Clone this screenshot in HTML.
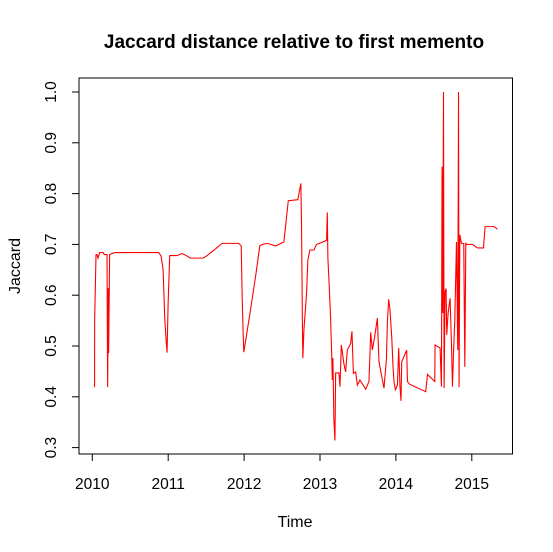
<!DOCTYPE html>
<html><head><meta charset="utf-8"><style>
html,body{margin:0;padding:0;background:#fff;}
svg{display:block;font-family:"Liberation Sans",Arial,sans-serif;}
</style></head><body>
<svg id="chart" width="553" height="552" viewBox="0 0 553 552" xmlns="http://www.w3.org/2000/svg">
<rect x="0" y="0" width="553" height="552" fill="#fff"/>
<text x="294" y="48" font-size="19" font-weight="bold" text-anchor="middle">Jaccard distance relative to first memento</text>
<rect x="79" y="78" width="433.5" height="376" fill="none" stroke="#000" stroke-width="1"/>
<g id="xaxis"></g>
<g id="yaxis"></g>
<text x="295" y="527" font-size="16" text-anchor="middle">Time</text>
<text transform="translate(20,266) rotate(-90)" font-size="16" text-anchor="middle">Jaccard</text>
<polyline id="series" fill="none" stroke="#ff0000" stroke-width="1.1" stroke-linejoin="miter"/>
</svg>
<script>
const xTicks = [2010, 2011, 2012, 2013, 2014, 2015];
const yTicks = [0.3, 0.4, 0.5, 0.6, 0.7, 0.8, 0.9, 1.0];
const yTickLabels = ["0.3", "0.4", "0.5", "0.6", "0.7", "0.8", "0.9", "1.0"];
const times = [2010.030,2010.031,2010.049,2010.062,2010.075,2010.096,2010.141,2010.158,2010.194,2010.202,2010.211,2010.215,2010.228,2010.260,2010.303,2010.875,2010.906,2010.933,2010.954,2010.972,2010.985,2010.999,2011.020,2011.117,2011.183,2011.226,2011.293,2011.460,2011.513,2011.623,2011.711,2011.930,2011.962,2011.975,2011.988,2011.996,2012.018,2012.084,2012.150,2012.207,2012.239,2012.305,2012.414,2012.458,2012.524,2012.546,2012.582,2012.708,2012.731,2012.748,2012.757,2012.767,2012.774,2012.788,2012.823,2012.840,2012.867,2012.920,2012.955,2013.008,2013.087,2013.096,2013.104,2013.123,2013.140,2013.153,2013.162,2013.170,2013.183,2013.197,2013.206,2013.249,2013.263,2013.281,2013.315,2013.338,2013.360,2013.404,2013.421,2013.440,2013.470,2013.492,2013.526,2013.602,2013.645,2013.668,2013.690,2013.720,2013.756,2013.777,2013.822,2013.843,2013.875,2013.888,2013.905,2013.922,2013.945,2013.962,2013.975,2013.993,2014.020,2014.037,2014.054,2014.067,2014.077,2014.142,2014.152,2014.178,2014.393,2014.416,2014.512,2014.516,2014.582,2014.600,2014.608,2014.617,2014.627,2014.635,2014.648,2014.661,2014.670,2014.688,2014.714,2014.732,2014.745,2014.759,2014.776,2014.798,2014.815,2014.825,2014.832,2014.842,2014.864,2014.894,2014.908,2014.921,2014.934,2015.009,2015.075,2015.154,2015.175,2015.294,2015.339];
const jaccard = [0.419,0.550,0.680,0.680,0.673,0.684,0.684,0.680,0.680,0.419,0.614,0.486,0.680,0.682,0.684,0.684,0.677,0.650,0.556,0.512,0.487,0.584,0.678,0.678,0.682,0.679,0.673,0.673,0.678,0.691,0.702,0.702,0.697,0.594,0.522,0.488,0.508,0.571,0.636,0.697,0.700,0.702,0.697,0.700,0.705,0.735,0.786,0.788,0.807,0.820,0.735,0.561,0.476,0.531,0.604,0.669,0.689,0.689,0.700,0.703,0.708,0.763,0.673,0.613,0.552,0.489,0.433,0.476,0.354,0.314,0.447,0.447,0.420,0.502,0.465,0.449,0.492,0.505,0.529,0.446,0.449,0.423,0.433,0.415,0.430,0.527,0.492,0.518,0.555,0.469,0.433,0.417,0.473,0.548,0.592,0.571,0.518,0.459,0.430,0.414,0.423,0.496,0.420,0.392,0.469,0.492,0.430,0.425,0.410,0.444,0.430,0.502,0.496,0.420,0.853,0.565,1.000,0.417,0.607,0.613,0.522,0.565,0.594,0.505,0.420,0.486,0.552,0.705,0.492,1.000,0.419,0.719,0.702,0.702,0.459,0.702,0.700,0.700,0.693,0.693,0.735,0.735,0.730];

const X0 = 92.3, XPY = 75.9;
const Y1 = 92, YPU = 508;
function xScale(t){ return X0 + (t - 2010) * XPY; }
function yScale(v){ return Y1 + (1 - v) * YPU; }

const NS = "http://www.w3.org/2000/svg";
const xg = document.getElementById('xaxis');
xTicks.forEach(function(t){
  const l = document.createElementNS(NS,'line');
  
  
  l.setAttribute('x1', xScale(t)); l.setAttribute('x2', xScale(t));
  l.setAttribute('y1', 454); l.setAttribute('y2', 461);
  l.setAttribute('stroke', '#000');
  xg.appendChild(l);
  const tx = document.createElementNS(NS,'text');
  
  
  tx.setAttribute('x', xScale(t)); tx.setAttribute('y', 489);
  tx.setAttribute('font-size', '15.5'); tx.setAttribute('text-anchor', 'middle');
  tx.textContent = String(t);
  xg.appendChild(tx);
});
const yg = document.getElementById('yaxis');
yTicks.forEach(function(v, i){
  const l = document.createElementNS(NS,'line');
  
  
  l.setAttribute('x1', 72); l.setAttribute('x2', 79);
  l.setAttribute('y1', yScale(v)); l.setAttribute('y2', yScale(v));
  l.setAttribute('stroke', '#000');
  yg.appendChild(l);
  const tx = document.createElementNS(NS,'text');
  
  
  tx.setAttribute('transform', 'translate(56,' + yScale(v) + ') rotate(-90)');
  tx.setAttribute('font-size', '15.5'); tx.setAttribute('text-anchor', 'middle');
  tx.textContent = yTickLabels[i];
  yg.appendChild(tx);
});
const pts = times.map(function(t, i){ return xScale(t).toFixed(2) + ',' + yScale(jaccard[i]).toFixed(2); });
document.getElementById('series').setAttribute('points', pts.join(' '));
</script>
</body></html>
